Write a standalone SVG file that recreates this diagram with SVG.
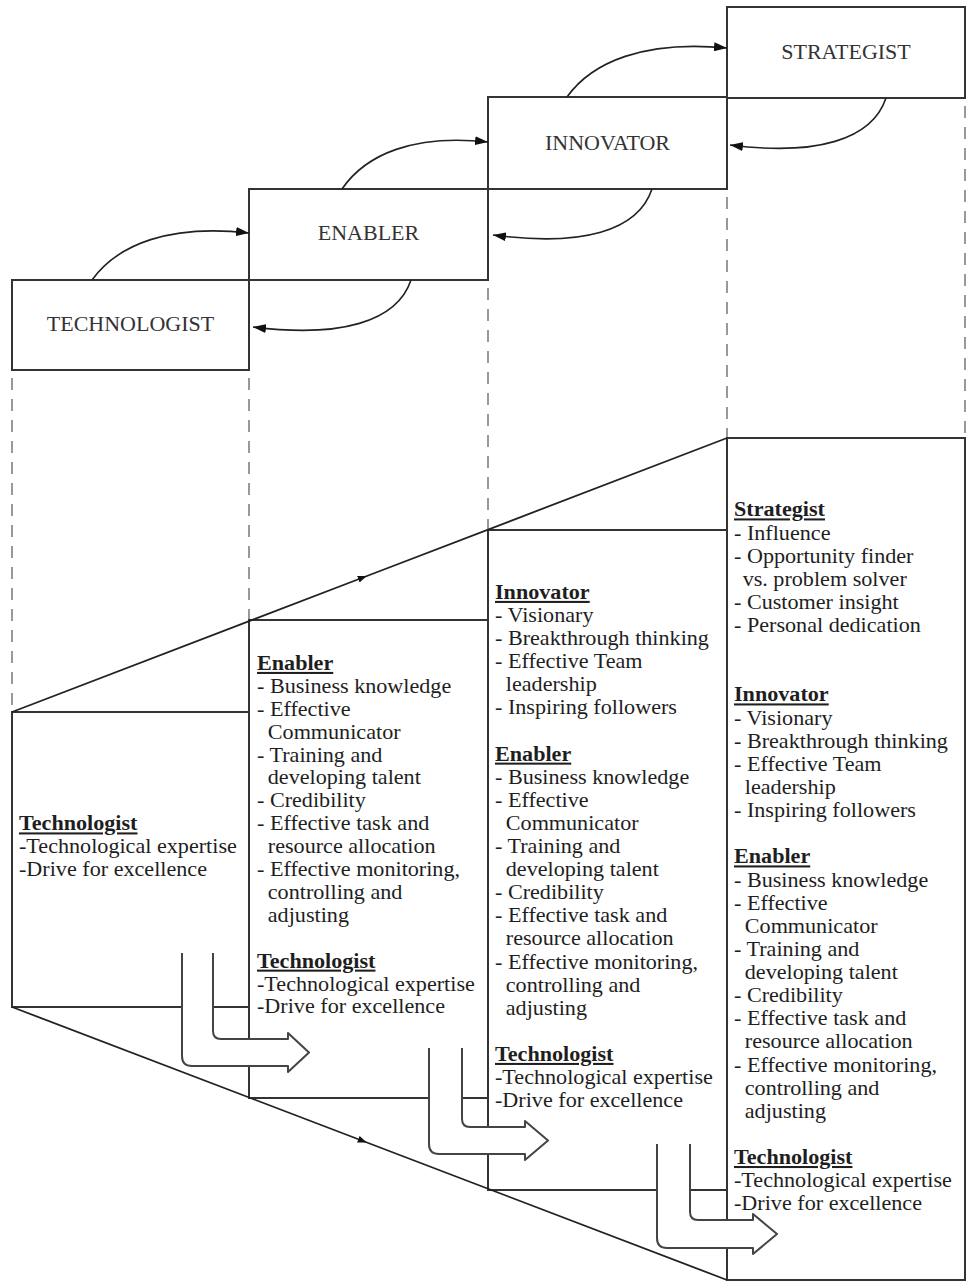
<svg xmlns="http://www.w3.org/2000/svg" width="968" height="1283" viewBox="0 0 968 1283">
<style>
.box{fill:none;stroke:#333;stroke-width:2}
.dash{fill:none;stroke:#999;stroke-width:2;stroke-dasharray:12 9}
.curve{fill:none;stroke:#222;stroke-width:1.6}
.diag{fill:none;stroke:#222;stroke-width:1.8}
.barrow{fill:#fff;stroke:#444;stroke-width:2;stroke-linejoin:round}
.lbl{font-family:"Liberation Serif","Times New Roman",serif;font-size:22px;fill:#333;text-anchor:middle}
.t{font-family:"Liberation Serif","Times New Roman",serif;font-size:20.5px;fill:#1e1e1e}
.h{font-weight:bold;text-decoration:underline}
</style>
<defs>
<marker id="ah" markerUnits="userSpaceOnUse" markerWidth="13" markerHeight="9" refX="13" refY="4.5" orient="auto"><path d="M0,0 L13,4.5 L0,9 z" fill="#111"/></marker>
<marker id="mid" markerUnits="userSpaceOnUse" markerWidth="10" markerHeight="8" refX="5" refY="3.5" orient="auto"><path d="M0,0 L9,3.5 L0,7 z" fill="#111"/></marker>
</defs>
<rect width="968" height="1283" fill="#fff"/>

<!-- dashed guides -->
<g id="guides">
<line class="dash" x1="12" y1="378" x2="12" y2="712"/>
<line class="dash" x1="249" y1="378" x2="249" y2="620"/>
<line class="dash" x1="488" y1="288" x2="488" y2="530"/>
<line class="dash" x1="727" y1="197" x2="727" y2="438"/>
<line class="dash" x1="965" y1="106" x2="965" y2="438"/>
</g>

<!-- top role boxes -->
<g id="top-technologist"><rect class="box" x="12" y="280" width="237" height="90"/><text class="lbl" x="130.5" y="331">TECHNOLOGIST</text></g>
<g id="top-enabler"><rect class="box" x="249" y="189" width="239" height="91"/><text class="lbl" x="368.5" y="239.5">ENABLER</text></g>
<g id="top-innovator"><rect class="box" x="488" y="97" width="239" height="92"/><text class="lbl" x="607.5" y="149.5">INNOVATOR</text></g>
<g id="top-strategist"><rect class="box" x="727" y="7" width="238" height="91"/><text class="lbl" x="846" y="58.5">STRATEGIST</text></g>

<!-- lower boxes -->
<g id="box-technologist"><rect class="box" x="12" y="712" width="237" height="295"/></g>
<g id="box-enabler"><rect class="box" x="249" y="620" width="239" height="478"/></g>
<g id="box-innovator"><rect class="box" x="488" y="530" width="239" height="660"/></g>
<g id="box-strategist"><rect class="box" x="727" y="438" width="238" height="842"/></g>

<!-- connectors -->
<g id="connectors">
<path class="curve" d="M92,280 C118,244 170,224 249,233" marker-end="url(#ah)"/>
<path class="curve" d="M411,280 C397,322 340,338 253,327" marker-end="url(#ah)"/>
<path class="curve" d="M342,189 C366,154 414,134 488,142" marker-end="url(#ah)"/>
<path class="curve" d="M652,189 C638,231 582,247 493,235" marker-end="url(#ah)"/>
<path class="curve" d="M567,97 C592,62 644,40 727,48" marker-end="url(#ah)"/>
<path class="curve" d="M886,98 C872,140 816,156 730,145" marker-end="url(#ah)"/>
<path class="diag" d="M12,712 L363,577.5 L727,438" marker-mid="url(#mid)"/>
<path class="diag" d="M12,1007 L363,1141 L727,1280" marker-mid="url(#mid)"/>
<path class="barrow" d="M182,953 L182,1056 Q182,1066 192,1066 L288,1066 L288,1072 L309,1052.5 L288,1033 L288,1039 L221,1039 Q213,1039 213,1031 L213,953"/>
<path class="barrow" d="M429,1048 L429,1144 Q429,1154 439,1154 L525,1154 L525,1160 L548,1140.5 L525,1121 L525,1127 L470,1127 Q462,1127 462,1119 L462,1048"/>
<path class="barrow" d="M657,1144 L657,1238 Q657,1248 667,1248 L753,1248 L753,1254 L777,1234 L753,1214 L753,1220 L698,1220 Q690,1220 690,1212 L690,1144"/>
</g>

<!-- texts -->
<g id="text-technologist" transform="translate(19,0) scale(1.08,1)">
<text class="t h" x="0" y="830.5">Technologist</text>
<text class="t" x="0" y="853.4">-Technological expertise</text>
<text class="t" x="0" y="876.3">-Drive for excellence</text>
</g>

<g id="text-enabler" transform="translate(257,0) scale(1.08,1)">
<text class="t h" x="0" y="670">Enabler</text>
<text class="t" x="0" y="692.9">- Business knowledge</text>
<text class="t" x="0" y="715.8">- Effective</text>
<text class="t" x="10" y="738.7">Communicator</text>
<text class="t" x="0" y="761.6">- Training and</text>
<text class="t" x="10" y="784.5">developing talent</text>
<text class="t" x="0" y="807.4">- Credibility</text>
<text class="t" x="0" y="830.3">- Effective task and</text>
<text class="t" x="10" y="853.2">resource allocation</text>
<text class="t" x="0" y="876.1">- Effective monitoring,</text>
<text class="t" x="10" y="899">controlling and</text>
<text class="t" x="10" y="921.9">adjusting</text>
<text class="t h" x="0" y="967.7">Technologist</text>
<text class="t" x="0" y="990.6">-Technological expertise</text>
<text class="t" x="0" y="1013.5">-Drive for excellence</text>
</g>

<g id="text-innovator" transform="translate(495,0) scale(1.08,1)">
<text class="t h" x="0" y="599">Innovator</text>
<text class="t" x="0" y="622.1">- Visionary</text>
<text class="t" x="0" y="645.2">- Breakthrough thinking</text>
<text class="t" x="0" y="668.3">- Effective Team</text>
<text class="t" x="10" y="691.4">leadership</text>
<text class="t" x="0" y="714.5">- Inspiring followers</text>
<text class="t h" x="0" y="760.7">Enabler</text>
<text class="t" x="0" y="783.8">- Business knowledge</text>
<text class="t" x="0" y="806.9">- Effective</text>
<text class="t" x="10" y="830">Communicator</text>
<text class="t" x="0" y="853.1">- Training and</text>
<text class="t" x="10" y="876.2">developing talent</text>
<text class="t" x="0" y="899.3">- Credibility</text>
<text class="t" x="0" y="922.4">- Effective task and</text>
<text class="t" x="10" y="945.5">resource allocation</text>
<text class="t" x="0" y="968.6">- Effective monitoring,</text>
<text class="t" x="10" y="991.7">controlling and</text>
<text class="t" x="10" y="1014.8">adjusting</text>
<text class="t h" x="0" y="1061">Technologist</text>
<text class="t" x="0" y="1084.1">-Technological expertise</text>
<text class="t" x="0" y="1107.2">-Drive for excellence</text>
</g>

<g id="text-strategist" transform="translate(734,0) scale(1.08,1)">
<text class="t h" x="0" y="516.5">Strategist</text>
<text class="t" x="0" y="539.6">- Influence</text>
<text class="t" x="0" y="562.8">- Opportunity finder</text>
<text class="t" x="8" y="585.9">vs. problem solver</text>
<text class="t" x="0" y="609">- Customer insight</text>
<text class="t" x="0" y="632.2">- Personal dedication</text>
<text class="t h" x="0" y="701.5">Innovator</text>
<text class="t" x="0" y="724.7">- Visionary</text>
<text class="t" x="0" y="747.8">- Breakthrough thinking</text>
<text class="t" x="0" y="770.9">- Effective Team</text>
<text class="t" x="10" y="794.1">leadership</text>
<text class="t" x="0" y="817.2">- Inspiring followers</text>
<text class="t h" x="0" y="863.5">Enabler</text>
<text class="t" x="0" y="886.6">- Business knowledge</text>
<text class="t" x="0" y="909.7">- Effective</text>
<text class="t" x="10" y="932.8">Communicator</text>
<text class="t" x="0" y="956">- Training and</text>
<text class="t" x="10" y="979.1">developing talent</text>
<text class="t" x="0" y="1002.2">- Credibility</text>
<text class="t" x="0" y="1025.4">- Effective task and</text>
<text class="t" x="10" y="1048.5">resource allocation</text>
<text class="t" x="0" y="1071.6">- Effective monitoring,</text>
<text class="t" x="10" y="1094.8">controlling and</text>
<text class="t" x="10" y="1117.9">adjusting</text>
<text class="t h" x="0" y="1164.1">Technologist</text>
<text class="t" x="0" y="1187.3">-Technological expertise</text>
<text class="t" x="0" y="1210.4">-Drive for excellence</text>
</g>
</svg>
